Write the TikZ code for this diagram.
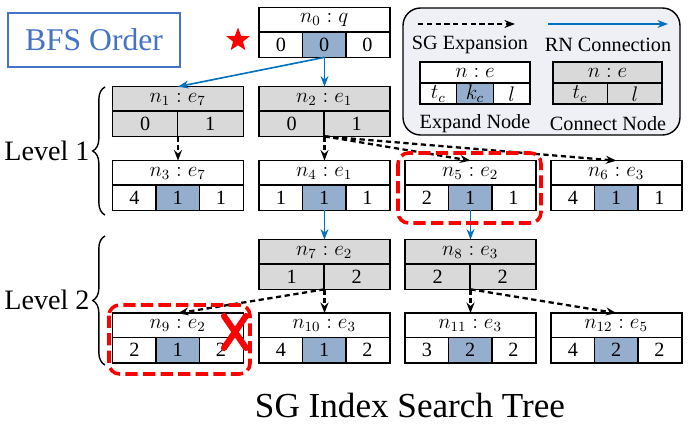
\documentclass[tikz,border=0pt]{standalone}
\usepackage{fontspec}
\setmainfont{Liberation Serif}
\usetikzlibrary{arrows.meta,decorations.pathreplacing,shapes.geometric}
\definecolor{kblue}{RGB}{149,174,205}
\definecolor{cgray}{RGB}{217,217,217}
\definecolor{rnblue}{RGB}{0,112,192}
\definecolor{legbg}{RGB}{238,240,245}
\definecolor{bfsblue}{RGB}{68,114,196}
\tikzset{
  box/.style={minimum width=2.6cm, minimum height=0.98cm, inner sep=0pt},
  lab/.style={font=\fontsize{11.5}{13}\selectfont},
  sg/.style={-{Stealth[length=6pt]}, line width=1.3pt, dash pattern=on 3pt off 2pt},
  rn/.style={-{Stealth[length=6pt]}, rnblue, line width=0.9pt},
  hit/.style={red, line width=2pt, dash pattern=on 7pt off 3pt, rounded corners=6pt},
}
% expand node: name, cx, cy, label, tc, kc, l
\newcommand{\expnode}[7]{%
  \node[box] (#1) at (#2,#3) {};
  \begin{scope}[shift={(#1.north west)}]
    \fill[kblue] (43.3,24.5) rectangle (86.7,49);
    \draw[thick] (0,24.5) -- (130,24.5) (43.3,24.5) -- (43.3,49) (86.7,24.5) -- (86.7,49);
    \node[lab] at (65,12.5) {#4};
    \node[lab] at (21.7,37) {#5};
    \node[lab] at (65,37) {#6};
    \node[lab] at (108.3,37) {#7};
  \end{scope}
  \draw[thick] (#1.north west) rectangle (#1.south east);
}
% connect node: name, cx, cy, label, tc, l
\newcommand{\connode}[6]{%
  \node[box, fill=cgray] (#1) at (#2,#3) {};
  \begin{scope}[shift={(#1.north west)}]
    \draw[thick] (0,24.5) -- (130,24.5) (65,24.5) -- (65,49);
    \node[lab] at (65,12.5) {#4};
    \node[lab] at (32.5,37) {#5};
    \node[lab] at (97.5,37) {#6};
  \end{scope}
  \draw[thick] (#1.north west) rectangle (#1.south east);
}
\begin{document}
\begin{tikzpicture}[x=0.02cm, y=-0.02cm]
\useasboundingbox (0,0) rectangle (691,429);
% title box and root
\node[draw=bfsblue, thick, text=bfsblue, minimum width=3.44cm, minimum height=1.08cm,
      font=\fontsize{18}{20}\selectfont] (bfs) at (94,40) {BFS Order};
\node[star, star points=5, star point ratio=2.4, fill=red, inner sep=0pt, minimum size=0.5cm] (root) at (238,40) {};
\expnode{n0}{324.5}{32.5}{$n_0: q$}{0}{0}{0}
% level 1
\connode{n1}{178}{111.5}{$n_1: e_7$}{0}{1}
\connode{n2}{324.5}{111.5}{$n_2: e_1$}{0}{1}
\expnode{n3}{178}{185.5}{$n_3: e_7$}{4}{1}{1}
\expnode{n4}{324.5}{185.5}{$n_4: e_1$}{1}{1}{1}
\expnode{n5}{470.5}{185.5}{$n_5: e_2$}{2}{1}{1}
\expnode{n6}{616.5}{185.5}{$n_6: e_3$}{4}{1}{1}
% level 2
\connode{n7}{324.5}{264.5}{$n_7: e_2$}{1}{2}
\connode{n8}{470.5}{264.5}{$n_8: e_3$}{2}{2}
\expnode{n9}{178}{338}{$n_9: e_2$}{2}{1}{2}
\expnode{n10}{324.5}{338}{$n_{10}: e_3$}{4}{1}{2}
\expnode{n11}{470.5}{338}{$n_{11}: e_3$}{3}{2}{2}
\expnode{n12}{616.5}{338}{$n_{12}: e_5$}{4}{2}{2}
% connectors
\draw[rn] (n0.south) -- (n1.north);
\draw[rn] (n0.south) -- (n2.north);
\draw[rn] (n4.south) -- (n7.north);
\draw[rn] (n5.south) -- (n8.north);
\draw[sg] (n1.south) -- (n3.north);
\draw[sg] (n2.south) -- (n4.north);
\draw[sg] (n2.south) -- (n5.north);
\draw[sg] (n2.south) -- (n6.north);
\draw[sg] (n7.south) -- (n9.north);
\draw[sg] (n7.south) -- (n10.north);
\draw[sg] (n8.south) -- (n11.north);
\draw[sg] (n8.south) -- (n12.north);
% highlights
\draw[hit] (398,153) rectangle (541,223);
\draw[hit] (109,305) rectangle (250,374);
\draw[red, line width=3.5pt, line cap=round] (224,316) -- (246,348) (246,316) -- (224,348);
% levels
\draw[decorate, decoration={brace, amplitude=7pt}, thick] (105,215) -- (105,87);
\draw[decorate, decoration={brace, amplitude=7pt}, thick] (105,365) -- (105,236);
\node[font=\fontsize{16}{18}\selectfont] (lv1) at (47,151) {Level 1};
\node[font=\fontsize{16}{18}\selectfont] (lv2) at (47,300) {Level 2};
\node[font=\fontsize{20}{22}\selectfont] (ttl) at (410,405) {SG Index Search Tree};
% legend
\draw[thick, fill=legbg, rounded corners=10pt] (403,8) rectangle (680,135);
\coordinate (sga) at (418,24); \coordinate (sgb) at (515,24);
\coordinate (rna) at (548,24); \coordinate (rnb) at (668,24);
\draw[sg] (sga) -- (sgb);
\draw[rn] (rna) -- (rnb);
\node[lab] (sgl) at (470,45) {SG Expansion};
\node[lab] (rnl) at (608,45) {RN Connection};
\fill[white] (420,62) rectangle (530,104);
\fill[kblue] (456.7,83) rectangle (493.3,104);
\draw[thick] (420,62) rectangle (530,104) (420,83) -- (530,83) (456.7,83) -- (456.7,104) (493.3,83) -- (493.3,104);
\node[lab] at (475,72.5) {$n: e$};
\node[lab] at (438.3,94) {$t_c$};
\node[lab] at (475,94) {$k_c$};
\node[lab] at (511.7,94) {$l$};
\fill[cgray] (553,62) rectangle (662,104);
\draw[thick] (553,62) rectangle (662,104) (553,83) -- (662,83) (607.5,83) -- (607.5,104);
\node[lab] at (607.5,72.5) {$n: e$};
\node[lab] at (580,94) {$t_c$};
\node[lab] at (635,94) {$l$};
\node[lab] (exl) at (475,124) {Expand Node};
\node[lab] (cnl) at (608,124) {Connect Node};
\end{tikzpicture}
\end{document}
